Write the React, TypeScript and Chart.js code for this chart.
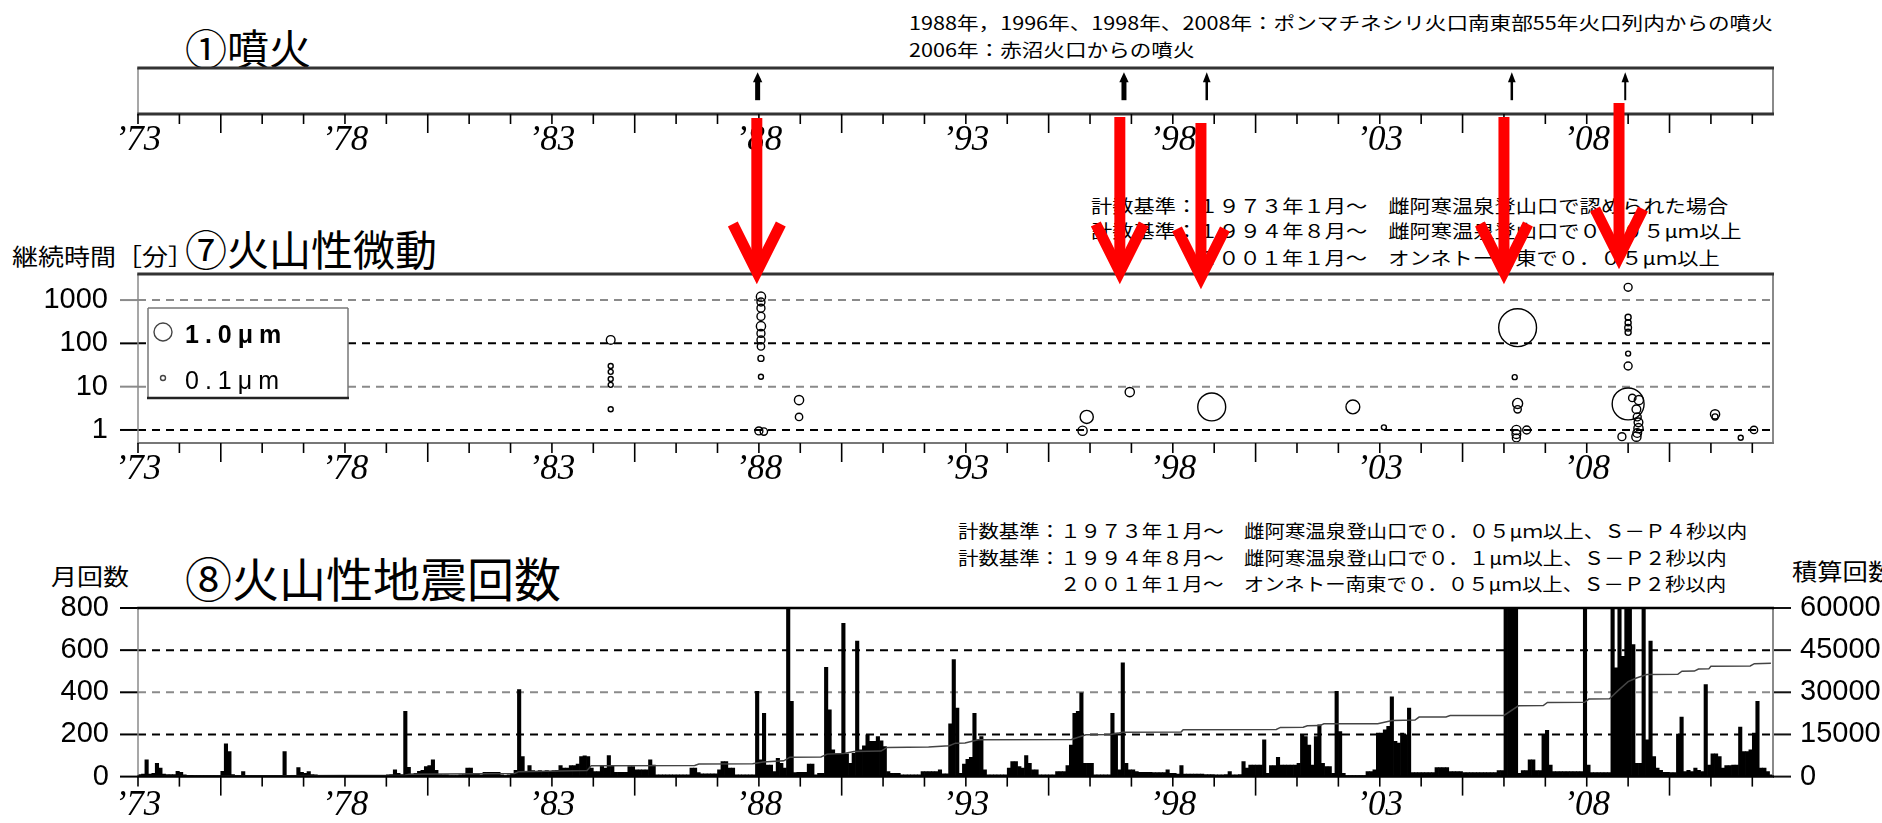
import React, { useEffect, useRef } from "react";
import { Chart, registerables } from "chart.js";

Chart.register(...registerables);

// ---------------- shared time axis ----------------
const YEAR_START = 1973;
const YEAR_END = 2012.5;
const LABEL_EVERY = 5;

// ---------------- ① eruptions ----------------
const eruptionYears = [1987.97, 1996.82, 1998.82, 2006.19, 2008.93];
const highlightArrowYears = [1987.95, 1996.72, 1998.68, 2006.0, 2008.78];

// ---------------- ⑦ volcanic tremor ----------------
const tremorYears = [
  1984.42, 1984.42, 1984.42, 1984.42, 1984.42, 1984.42,
  1988.05, 1988.05, 1988.05, 1988.05, 1988.05, 1988.05, 1988.05, 1988.05, 1988.05, 1988.05, 1988.0, 1988.12,
  1988.97, 1988.97, 1995.92, 1995.82, 1996.96, 1998.94, 2002.35, 2003.1,
  2006.33, 2006.26, 2006.33, 2006.33, 2006.3, 2006.3, 2006.3, 2006.55,
  2009.0, 2009.0, 2009.0, 2009.0, 2009.0, 2009.0, 2009.0, 2009.1, 2009.0, 2009.26, 2009.2, 2009.22, 2009.25, 2009.25, 2009.22, 2009.2, 2008.85,
  2011.1, 2011.1, 2012.04, 2011.72,
];
const tremorMinutes = [
  120, 30, 22, 15, 11, 3,
  1200, 900, 650, 420, 250, 170, 120, 85, 45, 17, 0.95, 0.92,
  4.9, 2.0, 2.0, 0.96, 7.5, 3.4, 3.4, 1.15,
  230, 16.6, 4.1, 3.0, 1.0, 0.8, 0.65, 1.0,
  1970, 400, 300, 230, 180, 58, 30, 5.5, 4.0, 4.9, 3.0, 2.0, 1.5, 1.1, 0.85, 0.7, 0.7,
  2.3, 2.0, 1.0, 0.66,
];
const tremorAmplitudes = [
  0.27, 0.1, 0.1, 0.1, 0.1, 0.1,
  0.3, 0.23, 0.23, 0.23, 0.3, 0.23, 0.23, 0.2, 0.14, 0.1, 0.23, 0.2,
  0.3, 0.2, 0.57, 0.3, 0.3, 2.2, 0.62, 0.1,
  3.8, 0.1, 0.35, 0.2, 0.3, 0.27, 0.23, 0.23,
  0.23, 0.14, 0.14, 0.17, 0.14, 0.1, 0.23, 0.2, 2.8, 0.3, 0.27, 0.23, 0.27, 0.3, 0.27, 0.3, 0.23,
  0.3, 0.14, 0.2, 0.1,
];
const tremorTicks = [1, 10, 100, 1000];
const legendAmplitudes = [1.0, 0.1];
const legendLabels = ["1.0\u03bcm", "0.1\u03bcm"];

// ---------------- ⑧ volcanic earthquakes (monthly counts, Jan..Dec) ----------------
const quakeFirstYear = 1973;
const quakeMonthly: number[][] = [
  /*1973*/ [10, 12, 80, 12, 15, 63, 40, 12, 10, 10, 10, 25],
  /*1974*/ [20, 8, 6, 6, 5, 5, 5, 5, 5, 5, 5, 5],
  /*1975*/ [25, 155, 119, 10, 5, 5, 24, 5, 5, 5, 5, 5],
  /*1976*/ [5, 5, 5, 5, 5, 5, 119, 5, 5, 5, 43, 20],
  /*1977*/ [15, 24, 10, 8, 5, 5, 5, 3, 5, 3, 5, 5],
  /*1978*/ [5, 3, 5, 5, 3, 5, 5, 3, 5, 5, 5, 5],
  /*1979*/ [8, 10, 32, 15, 10, 310, 44, 12, 15, 25, 30, 48],
  /*1980*/ [52, 80, 30, 10, 8, 8, 5, 5, 5, 8, 10, 40],
  /*1981*/ [40, 15, 15, 8, 20, 20, 20, 20, 20, 8, 5, 8],
  /*1982*/ [15, 30, 413, 95, 20, 52, 28, 25, 28, 25, 28, 25],
  /*1983*/ [28, 30, 52, 40, 40, 52, 52, 60, 95, 98, 95, 40],
  /*1984*/ [24, 24, 52, 40, 100, 52, 20, 20, 20, 20, 48, 48],
  /*1985*/ [32, 32, 32, 32, 80, 55, 8, 8, 8, 8, 8, 8],
  /*1986*/ [8, 8, 8, 8, 40, 40, 19, 13, 13, 13, 13, 13],
  /*1987*/ [32, 71, 71, 40, 40, 8, 8, 8, 8, 8, 8, 405],
  /*1988*/ [80, 300, 55, 55, 24, 87, 63, 40, 950, 357, 19, 20],
  /*1989*/ [20, 20, 60, 60, 8, 16, 16, 519, 317, 127, 108, 108],
  /*1990*/ [727, 108, 63, 111, 643, 127, 146, 198, 167, 167, 190, 170],
  /*1991*/ [143, 24, 16, 16, 16, 8, 8, 8, 8, 8, 8, 24],
  /*1992*/ [24, 24, 24, 24, 32, 13, 13, 250, 555, 325, 16, 60],
  /*1993*/ [82, 92, 300, 175, 190, 32, 8, 8, 8, 8, 8, 8],
  /*1994*/ [40, 71, 71, 48, 40, 100, 63, 32, 32, 8, 8, 8],
  /*1995*/ [8, 8, 24, 24, 24, 52, 150, 300, 310, 397, 63, 63],
  /*1996*/ [63, 8, 8, 8, 8, 8, 300, 206, 32, 540, 63, 32],
  /*1997*/ [32, 24, 20, 20, 20, 20, 19, 19, 19, 19, 32, 16],
  /*1998*/ [16, 12, 52, 12, 12, 12, 12, 12, 12, 10, 10, 10],
  /*1999*/ [8, 8, 8, 10, 24, 8, 8, 10, 71, 40, 55, 55],
  /*2000*/ [55, 55, 175, 15, 52, 52, 92, 55, 55, 55, 55, 55],
  /*2001*/ [63, 198, 190, 150, 55, 190, 246, 63, 48, 48, 15, 405],
  /*2002*/ [214, 15, 5, 5, 5, 5, 5, 5, 24, 24, 32, 206],
  /*2003*/ [206, 222, 238, 378, 167, 159, 206, 198, 325, 19, 19, 19],
  /*2004*/ [19, 19, 19, 19, 43, 43, 43, 43, 24, 24, 24, 24],
  /*2005*/ [19, 19, 19, 19, 19, 19, 19, 19, 19, 19, 28, 28],
  /*2006*/ [850, 1050, 950, 800, 16, 28, 28, 80, 80, 28, 28, 198],
  /*2007*/ [219, 55, 24, 24, 24, 24, 24, 24, 24, 24, 24, 820],
  /*2008*/ [55, 19, 19, 19, 19, 19, 19, 1500, 516, 1400, 571, 1300],
  /*2009*/ [1200, 627, 63, 63, 900, 175, 643, 95, 40, 30, 20, 20],
  /*2010*/ [19, 19, 202, 283, 24, 30, 24, 40, 30, 24, 437, 55],
  /*2011*/ [108, 108, 95, 40, 52, 52, 55, 55, 235, 119, 119, 127],
  /*2012*/ [206, 357, 40, 40, 24, 8],
];
const cumulativeYears = [
  1973.0, 1975.1, 1979.45, 1979.55, 1982.1, 1982.2, 1983.85, 1983.95, 1986.45, 1986.55, 1987.85, 1988.1,
  1988.6, 1988.75, 1989.5, 1989.65, 1990.05, 1990.3, 1990.95, 1991.1, 1992.1, 1992.6, 1992.75, 1992.98,
  1993.3, 1995.55, 1995.9, 1996.5, 1996.8, 1998.2, 1998.25, 2000.5, 2000.6, 2001.15, 2001.25, 2001.55,
  2001.65, 2002.95, 2003.3, 2003.85, 2003.95, 2004.6, 2004.7, 2006.0, 2006.35, 2006.95, 2007.05, 2007.95,
  2008.05, 2008.55, 2008.75, 2009.0, 2009.2, 2009.45, 2010.2, 2010.3, 2010.6, 2010.7, 2010.95, 2011.0,
  2011.95, 2012.05, 2012.45,
];
const cumulativeCounts = [
  0, 250, 500, 850, 1100, 1750, 2150, 3900, 3950, 4500, 4550, 5200,
  5600, 6900, 7000, 8000, 8200, 8900, 9100, 10400, 10500, 11000, 11900, 12000,
  13100, 13200, 14900, 14950, 15800, 15850, 16700, 16750, 17500, 17600, 18100, 18150,
  18800, 18850, 20000, 20100, 21200, 21250, 21700, 21750, 25200, 25300, 26400, 26450,
  27600, 27700, 30500, 33800, 35100, 36300, 36400, 37500, 37550, 38300, 38350, 39300,
  39400, 40200, 40300,
];
const countTicks = [0, 200, 400, 600, 800];
const cumulativeTicks = [0, 15000, 30000, 45000, 60000];

// ---------------- layout / style (not data) ----------------
const W = 1882;
const PLOT_LEFT = 138;
const PLOT_RIGHT = 1773;
const P1 = { top: 0, height: 175, areaTop: 68, areaBottom: 114 };
const P2 = { top: 0, height: 500, areaTop: 274, areaBottom: 443 };
const P3 = { top: 500, height: 323, areaTop: 108, areaBottom: 277 };
const ERUPTION_SHAFT = [5, 5, 2.5, 2.5, 2];
const RED_TOPS = [118, 117, 123, 117, 103];
const RED_TIPS = [285, 285, 290, 285, 270];
const LEGEND_BOX = { x: 148, y: 308, w: 200, h: 90 };
const CJK = "'Noto Sans CJK JP', 'Noto Sans', sans-serif";
const NUM_FONT = { family: "'Liberation Sans', Arial, sans-serif", size: 29 };
const YEAR_FONT = { family: "'Liberation Serif', 'DejaVu Serif', serif", size: 35, style: "italic" as const };
const GREY = "#8a8a8a";
const DASH = [8, 6];

const bubbleRadius = (amp: number) => 9 * Math.pow(amp, 0.556);

function yearLabel(v: number): string {
  const n = Math.round(v);
  if (Math.abs(v - n) > 1e-6 || (n - YEAR_START) % LABEL_EVERY !== 0) return "";
  return "\u2019" + String(n).slice(2);
}

function xAxis(height: number, pad: number) {
  return {
    type: "linear" as const,
    position: "bottom" as const,
    min: YEAR_START,
    max: YEAR_END,
    grid: { display: false, drawTicks: false },
    border: { display: false },
    ticks: {
      stepSize: 1,
      autoSkip: false,
      maxRotation: 0,
      minRotation: 0,
      includeBounds: false,
      padding: pad,
      color: "#000",
      font: YEAR_FONT,
      callback: (v: any) => yearLabel(Number(v)),
    },
    afterFit: (s: any) => {
      s.height = height;
    },
  };
}

function line(ctx: CanvasRenderingContext2D, x1: number, y1: number, x2: number, y2: number, w: number, c: string, dash: number[] = []) {
  ctx.save();
  ctx.beginPath();
  ctx.setLineDash(dash);
  ctx.lineWidth = w;
  ctx.strokeStyle = c;
  ctx.moveTo(x1, y1);
  ctx.lineTo(x2, y2);
  ctx.stroke();
  ctx.restore();
}

function drawYearTicks(chart: any) {
  const ctx = chart.ctx;
  const xs = chart.scales.x;
  const b = chart.chartArea.bottom;
  for (let y = Math.ceil(YEAR_START); y <= YEAR_END; y++) {
    const px = xs.getPixelForValue(y);
    const k = (y - YEAR_START) % LABEL_EVERY;
    const len = k === 2 ? 19 : 10;
    line(ctx, px, b, px, b + len, 1.6, "#000");
  }
}

type Edge = { w: number; c: string };
function drawBox(chart: any, top: Edge, bottom: Edge, left: Edge, right: Edge) {
  const ctx = chart.ctx;
  const a = chart.chartArea;
  line(ctx, a.left, a.top, a.left, a.bottom, left.w, left.c);
  line(ctx, a.right, a.top, a.right, a.bottom, right.w, right.c);
  line(ctx, a.left - left.w / 2, a.top, a.right + right.w / 2, a.top, top.w, top.c);
  line(ctx, a.left - left.w / 2, a.bottom, a.right + right.w / 2, a.bottom, bottom.w, bottom.c);
}

const baseOptions = {
  responsive: false,
  animation: false as const,
  devicePixelRatio: 1,
  events: [] as any[],
  plugins: { legend: { display: false }, tooltip: { enabled: false } },
};

// ---------- panel ① ----------
function eruptionConfig(): any {
  return {
    type: "scatter",
    data: {
      datasets: [
        {
          data: eruptionYears.map((x) => ({ x, y: 0.3 })),
          pointRadius: 0,
          showLine: false,
        },
      ],
    },
    options: {
      ...baseOptions,
      layout: { padding: { left: PLOT_LEFT, right: W - PLOT_RIGHT, top: P1.areaTop, bottom: 0 } },
      scales: {
        x: xAxis(P1.height - P1.areaBottom, 6),
        y: { display: false, min: 0, max: 1 },
      },
    },
    plugins: [
      {
        id: "eruptionFrame",
        afterDraw(chart: any) {
          const ctx = chart.ctx;
          const ys = chart.scales.y;
          drawBox(chart, { w: 3, c: "#333" }, { w: 3, c: "#333" }, { w: 1.5, c: GREY }, { w: 2, c: GREY });
          drawYearTicks(chart);
          const meta = chart.getDatasetMeta(0);
          const yb = ys.getPixelForValue(0.3);
          const yt = ys.getPixelForValue(0.91);
          meta.data.forEach((pt: any, i: number) => {
            const x = pt.x;
            const w = ERUPTION_SHAFT[i];
            line(ctx, x, yb, x, yt + 6, w, "#000");
            ctx.save();
            ctx.fillStyle = "#000";
            ctx.beginPath();
            ctx.moveTo(x, yt);
            ctx.lineTo(x - 3 - w / 3, yt + 10);
            ctx.lineTo(x + 3 + w / 3, yt + 10);
            ctx.closePath();
            ctx.fill();
            ctx.restore();
          });
        },
      },
    ],
  };
}

// ---------- panel ⑦ ----------
function tremorConfig(): any {
  return {
    type: "bubble",
    data: {
      datasets: [
        {
          data: tremorYears.map((x, i) => ({ x, y: tremorMinutes[i], r: bubbleRadius(tremorAmplitudes[i]) })),
          backgroundColor: "rgba(0,0,0,0)",
          borderColor: "#000",
          borderWidth: 1.4,
          clip: false,
        },
      ],
    },
    options: {
      ...baseOptions,
      layout: { padding: { left: 0, right: W - PLOT_RIGHT, top: P2.areaTop, bottom: 0 } },
      scales: {
        x: xAxis(P2.height - P2.areaBottom, 6),
        y: {
          type: "logarithmic",
          min: 0.5,
          max: 4000,
          grid: { display: false, drawTicks: false },
          border: { display: false },
          afterBuildTicks: (s: any) => {
            s.ticks = tremorTicks.map((v) => ({ value: v }));
          },
          ticks: {
            padding: PLOT_LEFT - 108,
            color: "#000",
            font: NUM_FONT,
            callback: (v: any) => String(v),
          },
          afterFit: (s: any) => {
            s.width = PLOT_LEFT;
          },
        },
      },
    },
    plugins: [
      {
        id: "tremorFrame",
        beforeDatasetsDraw(chart: any) {
          const a = chart.chartArea;
          const ys = chart.scales.y;
          tremorTicks.forEach((v) => {
            const py = ys.getPixelForValue(v);
            const c = Math.round(Math.log10(v)) % 2 === 0 ? "#000" : GREY;
            line(chart.ctx, a.left, py, a.right, py, 2, c, DASH);
            line(chart.ctx, a.left - 18, py, a.left, py, 2, c);
          });
        },
        afterDraw(chart: any) {
          const ctx = chart.ctx;
          drawBox(chart, { w: 3, c: "#333" }, { w: 2, c: "#777" }, { w: 1.5, c: GREY }, { w: 2, c: GREY });
          drawYearTicks(chart);
          // legend
          ctx.save();
          ctx.fillStyle = "#fff";
          ctx.fillRect(LEGEND_BOX.x, LEGEND_BOX.y, LEGEND_BOX.w, LEGEND_BOX.h);
          line(ctx, LEGEND_BOX.x, LEGEND_BOX.y, LEGEND_BOX.x + LEGEND_BOX.w, LEGEND_BOX.y, 1.5, "#777");
          line(ctx, LEGEND_BOX.x, LEGEND_BOX.y, LEGEND_BOX.x, LEGEND_BOX.y + LEGEND_BOX.h, 1.5, "#777");
          line(ctx, LEGEND_BOX.x + LEGEND_BOX.w, LEGEND_BOX.y, LEGEND_BOX.x + LEGEND_BOX.w, LEGEND_BOX.y + LEGEND_BOX.h, 1.5, "#777");
          line(ctx, LEGEND_BOX.x - 1, LEGEND_BOX.y + LEGEND_BOX.h, LEGEND_BOX.x + LEGEND_BOX.w + 1, LEGEND_BOX.y + LEGEND_BOX.h, 2.5, "#222");
          legendAmplitudes.forEach((amp, i) => {
            const cy = LEGEND_BOX.y + 24 + i * 46;
            ctx.beginPath();
            ctx.lineWidth = 1.4;
            ctx.strokeStyle = "#444";
            ctx.setLineDash([]);
            ctx.arc(LEGEND_BOX.x + 15, cy, bubbleRadius(amp), 0, Math.PI * 2);
            ctx.stroke();
            ctx.fillStyle = "#000";
            ctx.font = `${i === 0 ? "bold " : ""}25px 'Liberation Sans', Arial, sans-serif`;
            (ctx as any).letterSpacing = "6px";
            ctx.textBaseline = "middle";
            ctx.fillText(legendLabels[i], LEGEND_BOX.x + 37, cy + 4);
          });
          ctx.restore();
          // highlight arrows (red)
          const xs = chart.scales.x;
          ctx.save();
          ctx.strokeStyle = "#ff0000";
          ctx.lineWidth = 11;
          ctx.lineJoin = "miter";
          ctx.lineCap = "butt";
          highlightArrowYears.forEach((yr, i) => {
            const x = xs.getPixelForValue(yr);
            const tip = RED_TIPS[i];
            const v = tip - 13;
            ctx.beginPath();
            ctx.moveTo(x, RED_TOPS[i]);
            ctx.lineTo(x, v);
            ctx.stroke();
            ctx.beginPath();
            ctx.moveTo(x - 24, v - 48);
            ctx.lineTo(x, v);
            ctx.lineTo(x + 24, v - 48);
            ctx.stroke();
          });
          ctx.restore();
        },
      },
    ],
  };
}

// ---------- panel ⑧ ----------
function quakeConfig(): any {
  const bars: { x: number; y: number }[] = [];
  quakeMonthly.forEach((months, yi) => {
    months.forEach((v, m) => bars.push({ x: quakeFirstYear + yi + (m + 0.5) / 12, y: v }));
  });
  const cum = cumulativeYears.map((x, i) => ({ x, y: cumulativeCounts[i] }));
  return {
    type: "bar",
    data: {
      datasets: [
        {
          type: "line",
          data: cum,
          yAxisID: "y2",
          borderColor: "#444",
          borderWidth: 1.5,
          pointRadius: 0,
          tension: 0,
          order: 0,
        },
        {
          type: "bar",
          data: bars,
          yAxisID: "y",
          backgroundColor: "#000",
          borderWidth: 0,
          barPercentage: 1,
          categoryPercentage: 1,
          order: 1,
          clip: 0,
        },
      ],
    },
    options: {
      ...baseOptions,
      layout: { padding: { left: 0, right: 0, top: P3.areaTop, bottom: 0 } },
      scales: {
        x: { ...xAxis(P3.height - P3.areaBottom, 8), offset: false },
        y: {
          position: "left",
          min: 0,
          max: 800,
          grid: { display: false, drawTicks: false },
          border: { display: false },
          afterBuildTicks: (s: any) => {
            s.ticks = countTicks.map((v) => ({ value: v }));
          },
          ticks: { padding: PLOT_LEFT - 109, color: "#000", font: NUM_FONT },
          afterFit: (s: any) => {
            s.width = PLOT_LEFT;
          },
        },
        y2: {
          position: "right",
          min: 0,
          max: 60000,
          grid: { display: false, drawTicks: false },
          border: { display: false },
          afterBuildTicks: (s: any) => {
            s.ticks = cumulativeTicks.map((v) => ({ value: v }));
          },
          ticks: { padding: 27, color: "#000", font: NUM_FONT, callback: (v: any) => String(v) },
          afterFit: (s: any) => {
            s.width = W - PLOT_RIGHT;
          },
        },
      },
    },
    plugins: [
      {
        id: "quakeFrame",
        beforeDatasetsDraw(chart: any) {
          const a = chart.chartArea;
          const ys = chart.scales.y;
          countTicks.forEach((v) => {
            const py = ys.getPixelForValue(v);
            line(chart.ctx, a.left - 18, py, a.left, py, 2, "#000");
            if (v === 0 || v === 800) return;
            const c = (v / 200) % 2 === 1 ? "#000" : GREY;
            line(chart.ctx, a.left, py, a.right, py, 2, c, DASH);
          });
          const y2 = chart.scales.y2;
          cumulativeTicks.forEach((v) => {
            const py = y2.getPixelForValue(v);
            line(chart.ctx, a.right, py, a.right + 18, py, 2, "#111");
          });
        },
        afterDraw(chart: any) {
          drawBox(chart, { w: 2.5, c: "#000" }, { w: 2.5, c: "#000" }, { w: 1.5, c: GREY }, { w: 2, c: GREY });
          drawYearTicks(chart);
        },
      },
    ],
  };
}

function Txt(props: { text: string; left: number; cy: number; size: number; sx?: number; weight?: number }) {
  const { text, left, cy, size, sx = 1, weight = 400 } = props;
  return (
    <div
      style={{
        position: "absolute",
        left,
        top: cy - size / 2,
        fontSize: size,
        lineHeight: `${size}px`,
        fontFamily: CJK,
        fontWeight: weight,
        whiteSpace: "nowrap",
        color: "#000",
        transform: `scaleX(${sx})`,
        transformOrigin: "left center",
      }}
    >
      {text}
    </div>
  );
}

export default function App() {
  const c1 = useRef<HTMLCanvasElement>(null);
  const c2 = useRef<HTMLCanvasElement>(null);
  const c3 = useRef<HTMLCanvasElement>(null);

  useEffect(() => {
    const charts: Chart[] = [];
    if (c1.current) charts.push(new Chart(c1.current, eruptionConfig()));
    if (c2.current) charts.push(new Chart(c2.current, tremorConfig()));
    if (c3.current) charts.push(new Chart(c3.current, quakeConfig()));
    return () => charts.forEach((c) => c.destroy());
  }, []);

  const canvasStyle = (p: { top: number; height: number }) => ({
    position: "absolute" as const,
    left: 0,
    top: p.top,
    width: W,
    height: p.height,
  });

  return (
    <div style={{ position: "absolute", left: 0, top: 0, width: W, height: 823, overflow: "hidden", background: "#fff" }}>
      {/* ① */}
      <Txt text="①噴火" left={185} cy={47} size={42} />
      <Txt text="1988年，1996年、1998年、2008年：ポンマチネシリ火口南東部55年火口列内からの噴火" left={909} cy={21.5} size={18} sx={1.2} />
      <Txt text="2006年：赤沼火口からの噴火" left={909} cy={48.5} size={18} sx={1.2} />
      {/* ⑦ */}
      <Txt text="継続時間［分］" left={12} cy={255} size={23} sx={1.13} />
      <Txt text="⑦火山性微動" left={185} cy={248} size={42} />
      <Txt text="計数基準：１９７３年１月～　雌阿寒温泉登山口で認められた場合" left={1091} cy={205} size={18} sx={1.18} />
      <Txt text="計数基準：１９９４年８月～　雌阿寒温泉登山口で０．０５μｍ以上" left={1091} cy={230} size={18} sx={1.18} />
      <Txt text="２００１年１月～　オンネトー南東で０．０５μｍ以上" left={1197} cy={257} size={18} sx={1.18} />
      {/* ⑧ */}
      <Txt text="月回数" left={51} cy={575} size={23} sx={1.13} />
      <Txt text="⑧火山性地震回数" left={185} cy={576} size={47} />
      <Txt text="積算回数" left={1792} cy={570} size={23} sx={1.1} />
      <Txt text="計数基準：１９７３年１月～　雌阿寒温泉登山口で０．０５μｍ以上、Ｓ－Ｐ４秒以内" left={958} cy={530} size={18} sx={1.135} />
      <Txt text="計数基準：１９９４年８月～　雌阿寒温泉登山口で０．１μｍ以上、Ｓ－Ｐ２秒以内" left={958} cy={557} size={18} sx={1.135} />
      <Txt text="２００１年１月～　オンネトー南東で０．０５μｍ以上、Ｓ－Ｐ２秒以内" left={1060} cy={583} size={18} sx={1.135} />

      <canvas ref={c1} width={W} height={P1.height} style={canvasStyle(P1)} />
      <canvas ref={c2} width={W} height={P2.height} style={canvasStyle(P2)} />
      <canvas ref={c3} width={W} height={P3.height} style={canvasStyle(P3)} />
    </div>
  );
}
